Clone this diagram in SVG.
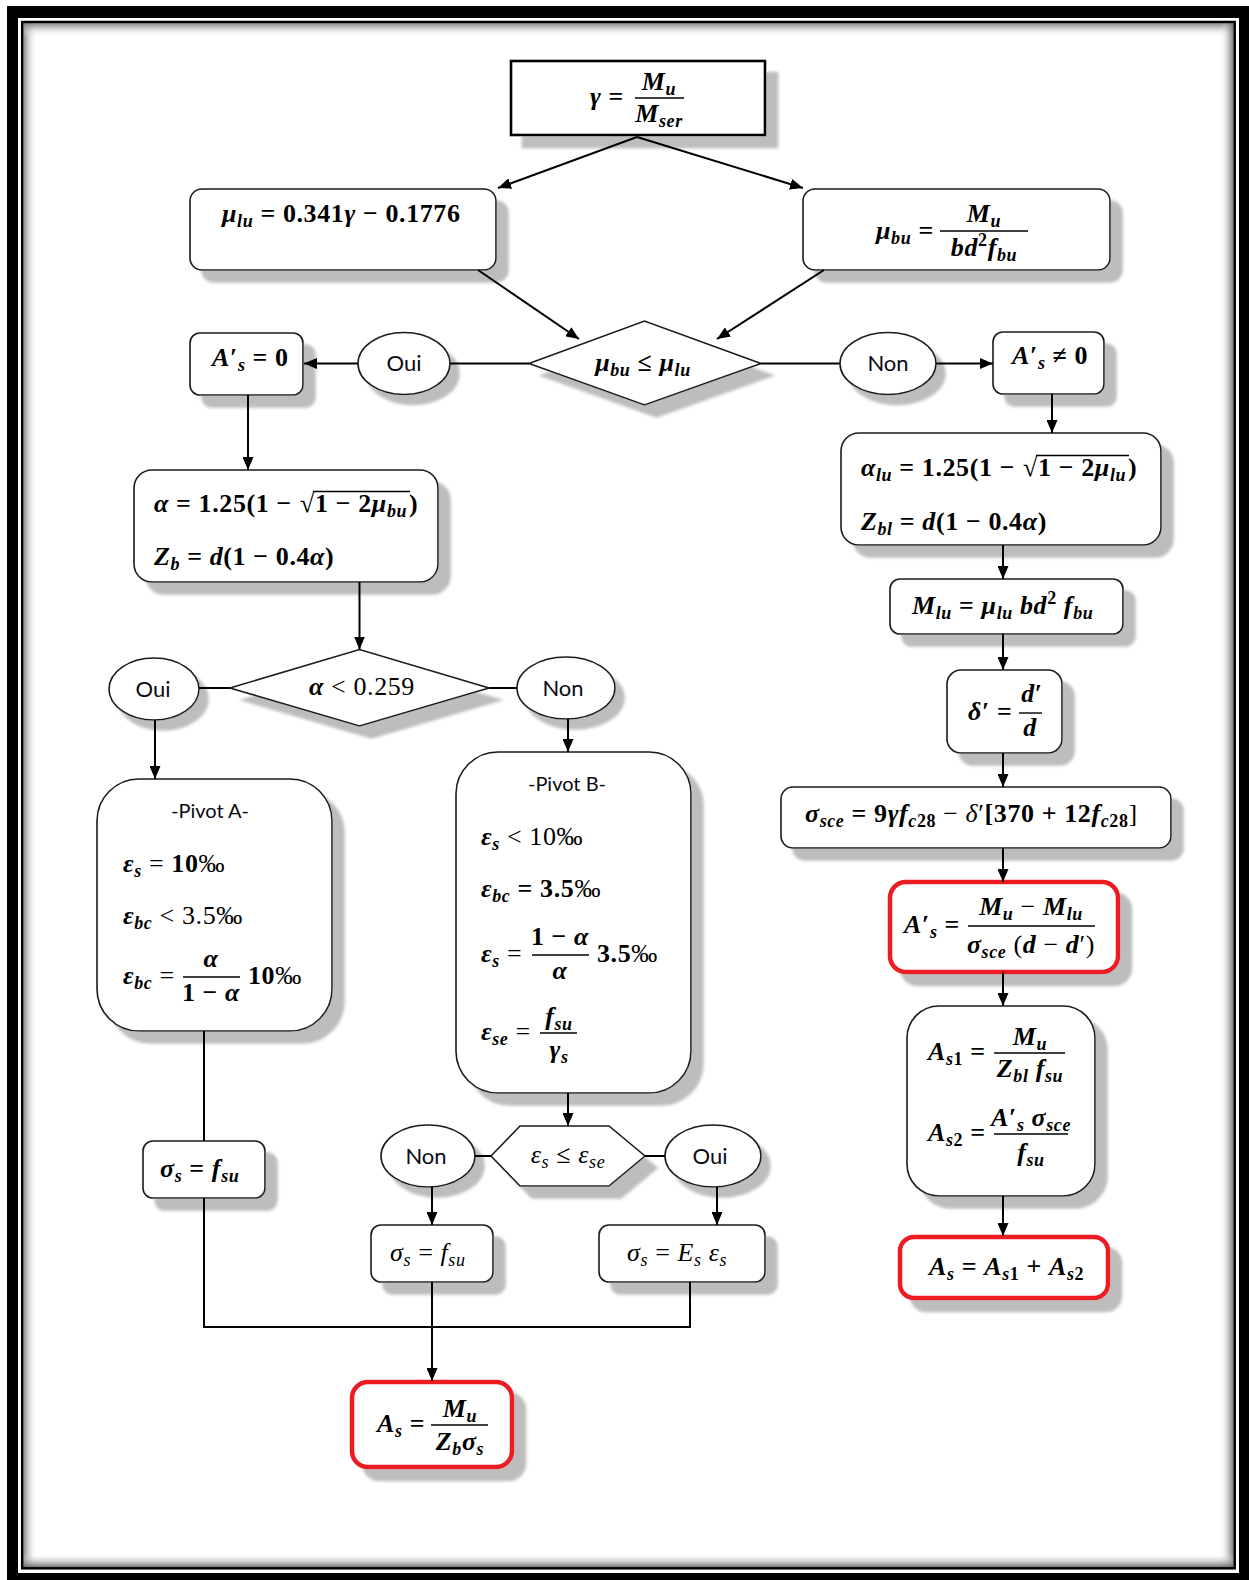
<svg xmlns="http://www.w3.org/2000/svg" width="1249" height="1580" viewBox="0 0 1249 1580">
<defs>
<style>
.m{font-family:"Liberation Serif","DejaVu Serif",serif;font-size:26px;font-weight:bold;font-style:italic;fill:#000;letter-spacing:0.6px}
.u{font-style:normal}
.r{font-weight:normal}
.s{font-size:18px}
.c{text-anchor:middle}
.lb{font-family:Lato,"Liberation Sans",sans-serif;font-size:22px;fill:#0a0a14;text-anchor:middle}
.bx{fill:#fff;stroke:#1a1a1a;stroke-width:1.6}
.rd{fill:#fff;stroke:#ec1c24;stroke-width:4.5}
.fb{stroke:#000;stroke-width:1.4}
.cn{fill:none;stroke:#000;stroke-width:2}
.ar{fill:none;stroke:#000;stroke-width:2;marker-end:url(#ah)}
</style>
<marker id="ah" markerUnits="userSpaceOnUse" markerWidth="13" markerHeight="11" refX="13" refY="5.5" orient="auto">
<path d="M0,0 L13,5.5 L0,11 Z" fill="#000"/>
</marker>
<filter id="sh" filterUnits="userSpaceOnUse" x="0" y="0" width="1249" height="1580">
<feGaussianBlur in="SourceAlpha" stdDeviation="1.5"/>
<feOffset dx="12" dy="12" result="o"/>
<feFlood flood-color="#bdbdbd"/>
<feComposite in2="o" operator="in"/>
<feMerge><feMergeNode/><feMergeNode in="SourceGraphic"/></feMerge>
</filter>
<filter id="sh2" filterUnits="userSpaceOnUse" x="0" y="0" width="1249" height="1580">
<feGaussianBlur in="SourceAlpha" stdDeviation="1.5"/>
<feOffset dx="9" dy="10" result="o"/>
<feFlood flood-color="#bdbdbd"/>
<feComposite in2="o" operator="in"/>
<feMerge><feMergeNode/><feMergeNode in="SourceGraphic"/></feMerge>
</filter>
<linearGradient id="gl" x1="0" y1="0" x2="1" y2="0"><stop offset="0" stop-color="#777" stop-opacity="0.9"/><stop offset="1" stop-color="#fff" stop-opacity="0"/></linearGradient>
<linearGradient id="gr" x1="1" y1="0" x2="0" y2="0"><stop offset="0" stop-color="#666" stop-opacity="0.9"/><stop offset="1" stop-color="#fff" stop-opacity="0"/></linearGradient>
<linearGradient id="gt" x1="0" y1="0" x2="0" y2="1"><stop offset="0" stop-color="#777" stop-opacity="0.9"/><stop offset="1" stop-color="#fff" stop-opacity="0"/></linearGradient>
<linearGradient id="gb" x1="0" y1="1" x2="0" y2="0"><stop offset="0" stop-color="#666" stop-opacity="0.9"/><stop offset="1" stop-color="#fff" stop-opacity="0"/></linearGradient>
</defs>
<rect x="0" y="0" width="1249" height="1580" fill="#fff"/>
<g id="frame">
<path d="M7,6 H1249 V1580 H7 Z M18,18 V1573 H1239 V18 Z" fill="#000" fill-rule="evenodd"/>
<rect x="23.4" y="23.2" width="14" height="1544" fill="url(#gl)"/>
<rect x="23.4" y="23.2" width="1210" height="14" fill="url(#gt)"/>
<rect x="1219.5" y="23.2" width="14" height="1544" fill="url(#gr)"/>
<rect x="23.4" y="1553" width="1210" height="14" fill="url(#gb)"/>
<rect x="22.2" y="22" width="1212.5" height="1546.3" fill="none" stroke="#000" stroke-width="2.5"/>
</g>
<g id="n-gamma">
<rect x="511" y="61" width="254" height="74" fill="#fff" stroke="#000" stroke-width="2.6" filter="url(#sh)"/>
<text class="m" x="590" y="105">γ<tspan class="u"> =</tspan></text>
<line class="fb" x1="635" y1="98" x2="684" y2="98"/>
<text class="m c" x="659" y="90">M<tspan class="s" dy="5">u</tspan></text>
<text class="m c" x="659" y="122">M<tspan class="s" dy="5">ser</tspan></text>
</g>
<g id="n-mulu">
<rect class="bx" x="190" y="189" width="306" height="81" rx="12" filter="url(#sh)"/>
<text class="m" x="222" y="222">μ<tspan class="s" dy="5">lu</tspan><tspan class="u" dy="-5"> = 0.341</tspan>γ<tspan class="u"> − 0.1776</tspan></text>
</g>
<g id="n-mubu">
<rect class="bx" x="803" y="189" width="307" height="81" rx="12" filter="url(#sh)"/>
<text class="m" x="876" y="239">μ<tspan class="s" dy="5">bu</tspan><tspan class="u" dy="-5"> =</tspan></text>
<line class="fb" x1="940" y1="231" x2="1028" y2="231"/>
<text class="m c" x="984" y="222">M<tspan class="s" dy="5">u</tspan></text>
<text class="m c" x="984" y="256">bd<tspan class="s u" dy="-10">2</tspan><tspan dy="10">f</tspan><tspan class="s" dy="5">bu</tspan></text>
</g>
<g id="n-dec1">
<polygon class="bx" points="529,363.5 644.5,321 761,363.5 644.5,405" filter="url(#sh)"/>
<text class="m c" x="643" y="371">μ<tspan class="s" dy="5">bu</tspan><tspan class="u" dy="-5"> ≤ </tspan>μ<tspan class="s" dy="5">lu</tspan></text>
</g>
<g id="n-oui1">
<ellipse class="bx" cx="404" cy="363.5" rx="46" ry="31" filter="url(#sh2)"/>
<text class="lb" x="404" y="371">Oui</text>
</g>
<g id="n-as0">
<rect class="bx" x="190" y="333" width="113" height="62" rx="10" filter="url(#sh)"/>
<text class="m" x="212" y="366">A<tspan class="u">′</tspan><tspan class="s" dy="5">s</tspan><tspan class="u" dy="-5"> = 0</tspan></text>
</g>
<g id="n-non1">
<ellipse class="bx" cx="888" cy="363.5" rx="48" ry="31" filter="url(#sh2)"/>
<text class="lb" x="888" y="371">Non</text>
</g>
<g id="n-asne0">
<rect class="bx" x="993" y="332" width="111" height="62" rx="10" filter="url(#sh)"/>
<text class="m" x="1012" y="364">A<tspan class="u">′</tspan><tspan class="s" dy="5">s</tspan><tspan class="u" dy="-5"> ≠ 0</tspan></text>
</g>
<g id="n-alphalu">
<rect class="bx" x="841" y="433" width="320" height="112" rx="18" filter="url(#sh)"/>
<text class="m" x="861" y="476">α<tspan class="s" dy="5">lu</tspan><tspan class="u" dy="-5"> = 1.25(1 − </tspan></text>
<text class="m u" x="1023" y="476">√</text>
<line class="fb" x1="1036" y1="455.5" x2="1129" y2="455.5"/>
<text class="m" x="1038" y="476"><tspan class="u">1 − 2</tspan>μ<tspan class="s" dy="5">lu</tspan></text>
<text class="m u" x="1128" y="476">)</text>
<text class="m" x="861" y="530">Z<tspan class="s" dy="5">bl</tspan><tspan class="u" dy="-5"> = </tspan>d<tspan class="u">(1 − 0.4</tspan>α<tspan class="u">)</tspan></text>
</g>
<g id="n-mlu">
<rect class="bx" x="890" y="579" width="233" height="55" rx="10" filter="url(#sh)"/>
<text class="m" x="912" y="614">M<tspan class="s" dy="5">lu</tspan><tspan class="u" dy="-5"> = </tspan>μ<tspan class="s" dy="5">lu</tspan><tspan dy="-5"> bd</tspan><tspan class="s u" dy="-10">2</tspan><tspan dy="10"> f</tspan><tspan class="s" dy="5">bu</tspan></text>
</g>
<g id="n-delta">
<rect class="bx" x="947" y="670" width="115" height="83" rx="14" filter="url(#sh)"/>
<text class="m" x="968" y="720">δ<tspan class="u">′ =</tspan></text>
<line class="fb" x1="1019" y1="713" x2="1042" y2="713"/>
<text class="m c" x="1032" y="702">d<tspan class="u">′</tspan></text>
<text class="m c" x="1030" y="736">d</text>
</g>
<g id="n-sigmasce">
<rect class="bx" x="781" y="787" width="390" height="61" rx="12" filter="url(#sh)"/>
<text class="m" x="805" y="822">σ<tspan class="s" dy="5">sce</tspan><tspan class="u" dy="-5"> = 9</tspan>γf<tspan class="s" dy="5">c</tspan><tspan class="s u">28</tspan><tspan class="u r" dy="-5"> − </tspan><tspan class="r">δ</tspan><tspan class="u r">′</tspan><tspan class="u">[370 + 12</tspan>f<tspan class="s" dy="5">c</tspan><tspan class="s u">28</tspan><tspan class="u r" dy="-5">]</tspan></text>
</g>
<g id="n-asp">
<rect class="rd" x="890" y="882" width="228" height="90" rx="16" filter="url(#sh)"/>
<text class="m" x="904" y="933">A<tspan class="u">′</tspan><tspan class="s" dy="5">s</tspan><tspan class="u" dy="-5"> =</tspan></text>
<line class="fb" x1="968" y1="926" x2="1095" y2="926"/>
<text class="m c" x="1031" y="915">M<tspan class="s" dy="5">u</tspan><tspan class="u r" dy="-5"> − </tspan>M<tspan class="s" dy="5">lu</tspan></text>
<text class="m c" x="1031" y="953">σ<tspan class="s" dy="5">sce</tspan><tspan class="u r" dy="-5"> (</tspan>d<tspan class="u r"> − </tspan>d<tspan class="u r">′)</tspan></text>
</g>
<g id="n-as12">
<rect class="bx" x="907" y="1006" width="188" height="190" rx="32" filter="url(#sh)"/>
<text class="m" x="928" y="1060">A<tspan class="s" dy="5">s</tspan><tspan class="s u">1</tspan><tspan class="u" dy="-5"> =</tspan></text>
<line class="fb" x1="994" y1="1053" x2="1065" y2="1053"/>
<text class="m c" x="1030" y="1045">M<tspan class="s" dy="5">u</tspan></text>
<text class="m c" x="1030" y="1077">Z<tspan class="s" dy="5">bl</tspan><tspan dy="-5"> f</tspan><tspan class="s" dy="5">su</tspan></text>
<text class="m" x="928" y="1141">A<tspan class="s" dy="5">s</tspan><tspan class="s u">2</tspan><tspan class="u" dy="-5"> =</tspan></text>
<line class="fb" x1="994" y1="1134" x2="1068" y2="1134"/>
<text class="m c" x="1031" y="1126">A<tspan class="u">′</tspan><tspan class="s" dy="5">s</tspan><tspan dy="-5"> σ</tspan><tspan class="s" dy="5">sce</tspan></text>
<text class="m c" x="1031" y="1161">f<tspan class="s" dy="5">su</tspan></text>
</g>
<g id="n-as-right">
<rect class="rd" x="900" y="1237" width="208" height="61" rx="14" filter="url(#sh)"/>
<text class="m" x="929" y="1275">A<tspan class="s" dy="5">s</tspan><tspan class="u" dy="-5"> = </tspan>A<tspan class="s" dy="5">s</tspan><tspan class="s u">1</tspan><tspan class="u" dy="-5"> + </tspan>A<tspan class="s" dy="5">s</tspan><tspan class="s u">2</tspan></text>
</g>
<g id="n-alpha">
<rect class="bx" x="134" y="470" width="304" height="112" rx="18" filter="url(#sh)"/>
<text class="m" x="154" y="512">α<tspan class="u"> = 1.25(1 − </tspan></text>
<text class="m u" x="300" y="512">√</text>
<line class="fb" x1="313" y1="491.5" x2="410" y2="491.5"/>
<text class="m" x="315" y="512"><tspan class="u">1 − 2</tspan>μ<tspan class="s" dy="5">bu</tspan></text>
<text class="m u" x="409" y="512">)</text>
<text class="m" x="154" y="565">Z<tspan class="s" dy="5">b</tspan><tspan class="u" dy="-5"> = </tspan>d<tspan class="u">(1 − 0.4</tspan>α<tspan class="u">)</tspan></text>
</g>
<g id="n-dec2">
<polygon class="bx" points="230,688 359.5,649.5 489,688 359.5,726" filter="url(#sh)"/>
<text class="m" x="309" y="695">α<tspan class="u r"> &lt; 0.259</tspan></text>
</g>
<g id="n-oui2">
<ellipse class="bx" cx="154" cy="689" rx="45" ry="31" filter="url(#sh2)"/>
<text class="lb" x="153" y="697">Oui</text>
</g>
<g id="n-non2">
<ellipse class="bx" cx="566" cy="688" rx="49" ry="31" filter="url(#sh2)"/>
<text class="lb" x="563" y="696">Non</text>
</g>
<g id="n-pivota">
<rect class="bx" x="97" y="779" width="235" height="252" rx="42" filter="url(#sh)"/>
<text class="lb" x="210" y="818" style="font-size:20px">-Pivot A-</text>
<text class="m" x="123" y="872">ε<tspan class="s" dy="5">s</tspan><tspan class="u r" dy="-5"> = </tspan><tspan class="u">10</tspan><tspan class="u r">‰</tspan></text>
<text class="m" x="123" y="924">ε<tspan class="s" dy="5">bc</tspan><tspan class="u r" dy="-5"> &lt; 3.5‰</tspan></text>
<text class="m" x="123" y="984">ε<tspan class="s" dy="5">bc</tspan><tspan class="u r" dy="-5"> =</tspan></text>
<line class="fb" x1="183" y1="977" x2="240" y2="977"/>
<text class="m c" x="211" y="967">α</text>
<text class="m c" x="211" y="1001"><tspan class="u">1 − </tspan>α</text>
<text class="m u" x="248" y="984">10<tspan class="r">‰</tspan></text>
</g>
<g id="n-pivotb">
<rect class="bx" x="456" y="752" width="235" height="341" rx="42" filter="url(#sh)"/>
<text class="lb" x="567" y="791" style="font-size:20px">-Pivot B-</text>
<text class="m" x="481" y="845">ε<tspan class="s" dy="5">s</tspan><tspan class="u r" dy="-5"> &lt; 10‰</tspan></text>
<text class="m" x="481" y="897">ε<tspan class="s" dy="5">bc</tspan><tspan class="u" dy="-5"> = 3.5</tspan><tspan class="u r">‰</tspan></text>
<text class="m" x="481" y="962">ε<tspan class="s" dy="5">s</tspan><tspan class="u r" dy="-5"> =</tspan></text>
<line class="fb" x1="532" y1="955" x2="589" y2="955"/>
<text class="m c" x="560" y="945"><tspan class="u">1 − </tspan>α</text>
<text class="m c" x="560" y="979">α</text>
<text class="m u" x="597" y="962">3.5<tspan class="r">‰</tspan></text>
<text class="m" x="481" y="1040">ε<tspan class="s" dy="5">se</tspan><tspan class="u r" dy="-5"> =</tspan></text>
<line class="fb" x1="540" y1="1033" x2="577" y2="1033"/>
<text class="m c" x="559" y="1025">f<tspan class="s" dy="5">su</tspan></text>
<text class="m c" x="559" y="1058">γ<tspan class="s" dy="5">s</tspan></text>
</g>
<g id="n-sigma-left">
<rect class="bx" x="143" y="1141" width="122" height="57" rx="10" filter="url(#sh)"/>
<text class="m" x="160" y="1177">σ<tspan class="s" dy="5">s</tspan><tspan class="u" dy="-5"> = </tspan>f<tspan class="s" dy="5">su</tspan></text>
</g>
<g id="n-dec3">
<polygon class="bx" points="491,1156 520,1126 609,1126 645,1156 609,1186 520,1186" filter="url(#sh)"/>
<text class="m r c" x="568" y="1163">ε<tspan class="s" dy="5">s</tspan><tspan class="u" dy="-5"> ≤ </tspan>ε<tspan class="s" dy="5">se</tspan></text>
</g>
<g id="n-non3">
<ellipse class="bx" cx="428" cy="1156" rx="47" ry="31" filter="url(#sh2)"/>
<text class="lb" x="426" y="1164">Non</text>
</g>
<g id="n-oui3">
<ellipse class="bx" cx="713" cy="1156" rx="48" ry="31" filter="url(#sh2)"/>
<text class="lb" x="710" y="1164">Oui</text>
</g>
<g id="n-sigma-mid">
<rect class="bx" x="371" y="1225" width="122" height="57" rx="10" filter="url(#sh)"/>
<text class="m r" x="390" y="1261">σ<tspan class="s" dy="5">s</tspan><tspan class="u" dy="-5"> = </tspan>f<tspan class="s" dy="5">su</tspan></text>
</g>
<g id="n-sigma-right">
<rect class="bx" x="599" y="1225" width="166" height="57" rx="10" filter="url(#sh)"/>
<text class="m r" x="627" y="1261">σ<tspan class="s" dy="5">s</tspan><tspan class="u" dy="-5"> = </tspan>E<tspan class="s" dy="5">s</tspan><tspan dy="-5"> ε</tspan><tspan class="s" dy="5">s</tspan></text>
</g>
<g id="n-as-left">
<rect class="rd" x="352" y="1382" width="160" height="85" rx="16" filter="url(#sh)"/>
<text class="m" x="377" y="1432">A<tspan class="s" dy="5">s</tspan><tspan class="u" dy="-5"> =</tspan></text>
<line class="fb" x1="431" y1="1425" x2="488" y2="1425"/>
<text class="m c" x="460" y="1417">M<tspan class="s" dy="5">u</tspan></text>
<text class="m c" x="460" y="1450">Z<tspan class="s" dy="5">b</tspan><tspan dy="-5">σ</tspan><tspan class="s" dy="5">s</tspan></text>
</g>
<g id="connectors">
<line class="ar" x1="637" y1="137" x2="498" y2="188"/>
<line class="ar" x1="637" y1="137" x2="803" y2="188"/>
<line class="ar" x1="478" y1="270" x2="579" y2="339"/>
<line class="ar" x1="824" y1="270" x2="717" y2="339"/>
<line class="cn" x1="529" y1="363.5" x2="450" y2="363.5"/>
<line class="ar" x1="358" y1="363.5" x2="304" y2="363.5"/>
<line class="cn" x1="761" y1="363.5" x2="840" y2="363.5"/>
<line class="ar" x1="936" y1="363.5" x2="993" y2="363.5"/>
<line class="ar" x1="1052" y1="394" x2="1052" y2="433"/>
<line class="ar" x1="1003" y1="545" x2="1003" y2="579"/>
<line class="ar" x1="1003" y1="634" x2="1003" y2="670"/>
<line class="ar" x1="1003" y1="753" x2="1003" y2="787"/>
<line class="ar" x1="1003" y1="848" x2="1003" y2="882"/>
<line class="ar" x1="1003" y1="972" x2="1003" y2="1006"/>
<line class="ar" x1="1003" y1="1196" x2="1003" y2="1236"/>
<line class="ar" x1="248" y1="395" x2="248" y2="470"/>
<line class="ar" x1="359.5" y1="582" x2="359.5" y2="649.5"/>
<line class="cn" x1="199" y1="688" x2="230" y2="688"/>
<line class="cn" x1="489" y1="688" x2="517" y2="688"/>
<line class="ar" x1="155" y1="720" x2="155" y2="779"/>
<line class="ar" x1="568" y1="719" x2="568" y2="752"/>
<line class="cn" x1="204" y1="1031" x2="204" y2="1141"/>
<polyline class="cn" points="204,1198 204,1327 690,1327 690,1282"/>
<line class="ar" x1="568" y1="1093" x2="568" y2="1126"/>
<line class="cn" x1="475" y1="1156" x2="491" y2="1156"/>
<line class="cn" x1="645" y1="1156" x2="665" y2="1156"/>
<line class="ar" x1="432" y1="1187" x2="432" y2="1225"/>
<line class="ar" x1="717" y1="1187" x2="717" y2="1225"/>
<line class="ar" x1="432" y1="1282" x2="432" y2="1381"/>
</g>
</svg>
